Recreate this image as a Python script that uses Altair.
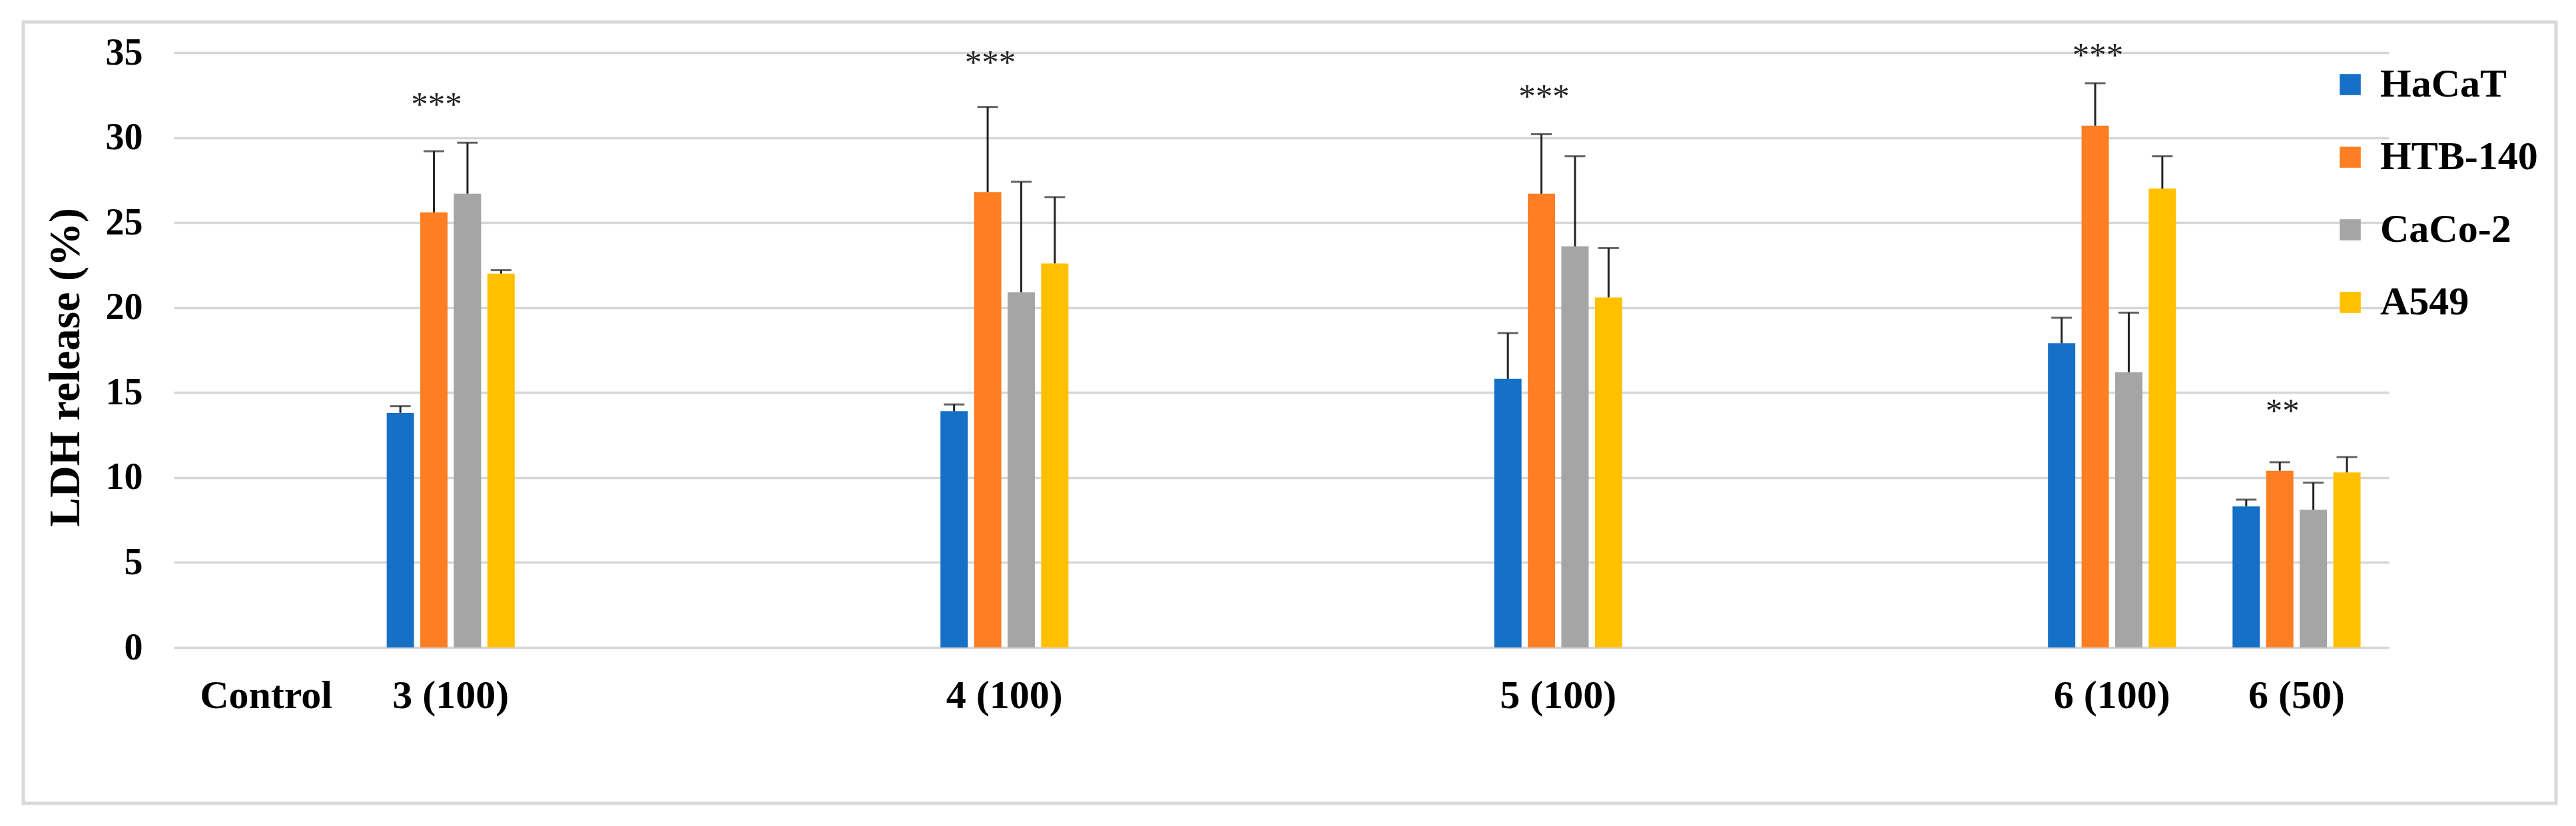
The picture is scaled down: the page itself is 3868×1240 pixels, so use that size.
import altair as alt
import pandas as pd

# ---- data ----
slots = ["Control", "3 (100)", "_g1", "_g2", "4 (100)", "_g3", "_g4",
         "5 (100)", "_g5", "_g6", "6 (100)", "6 (50)"]
groups = ["3 (100)", "4 (100)", "5 (100)", "6 (100)", "6 (50)"]
series = ["HaCaT", "HTB-140", "CaCo-2", "A549"]
colors = ["#1570C6", "#FD7E23", "#A5A5A5", "#FFC000"]

hacat = [13.8, 13.9, 15.8, 17.9, 8.3]
hacat_sd = [0.4, 0.4, 2.7, 1.5, 0.4]
htb140 = [25.6, 26.8, 26.7, 30.7, 10.4]
htb140_sd = [3.6, 5.0, 3.5, 2.5, 0.5]
caco2 = [26.7, 20.9, 23.6, 16.2, 8.1]
caco2_sd = [3.0, 6.5, 5.3, 3.5, 1.6]
a549 = [22.0, 22.6, 20.6, 27.0, 10.3]
a549_sd = [0.2, 3.9, 2.9, 1.9, 0.9]

star_text = ["***", "***", "***", "***", "**"]
star_y = [32.2, 34.7, 32.7, 35.1, 14.2]

y_ticks = [0, 5, 10, 15, 20, 25, 30, 35]

# ---- tables ----
means = [hacat, htb140, caco2, a549]
sds = [hacat_sd, htb140_sd, caco2_sd, a549_sd]
rows = []
for s, m, e in zip(series, means, sds):
    for g, v, d in zip(groups, m, e):
        rows.append({"group": g, "series": s, "value": v, "hi": round(v + d, 2)})
df = pd.DataFrame(rows)

stars = pd.DataFrame({"group": groups, "series": ["HTB-140"] * len(groups),
                      "y": star_y, "label": star_text})

FONT = "Liberation Serif"

x_enc = alt.X(
    "group:N",
    scale=alt.Scale(domain=slots, paddingInner=0, paddingOuter=0),
    axis=alt.Axis(
        title=None,
        labelExpr="indexof(datum.label, '_') == 0 ? '' : datum.label",
        labelAngle=0, labelFont=FONT, labelFontSize=60, labelFontWeight="bold",
        labelColor="black", labelPadding=90, labelBaseline="alphabetic",
        labelLimit=800, labelOverlap=False, ticks=False, tickSize=0,
        domain=False, grid=False,
    ),
)
xoff = alt.XOffset("series:N",
                   scale=alt.Scale(domain=series, paddingInner=0.1865, paddingOuter=0.843))
y_scale = alt.Scale(domain=[0, 35], nice=False, zero=True)
y_axis = alt.Axis(
    values=y_ticks, title="LDH release (%)",
    grid=True, gridColor="#D6D6D6", gridWidth=3.5,
    domain=False, ticks=False, tickSize=0,
    labelFont=FONT, labelFontSize=56, labelFontWeight="bold", labelColor="black",
    labelPadding=47,
    titleFont=FONT, titleFontSize=66, titleFontWeight="bold", titleColor="black",
    titleAngle=270, titleBaseline="middle", titleAlign="center",
    titleX=-163, titleY=472,
)

frame = alt.Chart(pd.DataFrame({"f": [0]})).mark_rect(
    filled=False, stroke="#D9D9D9", strokeWidth=5
).encode(
    x=alt.value(-226), x2=alt.value(3577), y=alt.value(-46), y2=alt.value(1127)
)

bars = alt.Chart(df).mark_bar().encode(
    x=x_enc,
    xOffset=xoff,
    y=alt.Y("value:Q", scale=y_scale, axis=y_axis),
    color=alt.Color(
        "series:N",
        scale=alt.Scale(domain=series, range=colors),
        legend=alt.Legend(
            title=None, orient="none", legendX=3238, legendY=18,
            symbolType="square", symbolSize=1000, symbolStrokeWidth=0,
            labelFont=FONT, labelFontSize=60, labelFontWeight="bold",
            labelColor="black", labelLimit=600, rowPadding=49,
            labelOffset=15, padding=0,
        ),
    ),
)

stems = alt.Chart(df).mark_rule(color="#222222", strokeWidth=3).encode(
    x="group:N", xOffset="series:N", y="value:Q", y2="hi:Q"
)
caps = alt.Chart(df).mark_tick(color="#222222", thickness=3, size=31).encode(
    x="group:N", xOffset="series:N", y="hi:Q"
)
star_marks = alt.Chart(stars).mark_text(
    font=FONT, fontSize=51, color="#222222", baseline="middle", dx=4, dy=8
).encode(
    x="group:N", xOffset="series:N", y="y:Q", text="label:N"
)

chart = alt.layer(frame, bars, stems, caps, star_marks).properties(
    width=3326, height=893,
    autosize=alt.AutoSizeParams(type="none"),
    padding={"left": 261, "top": 79, "right": 281, "bottom": 268},
    background="white",
).configure_view(stroke=None)

chart.save("out.html", embed_options={"renderer": "svg", "actions": False})
